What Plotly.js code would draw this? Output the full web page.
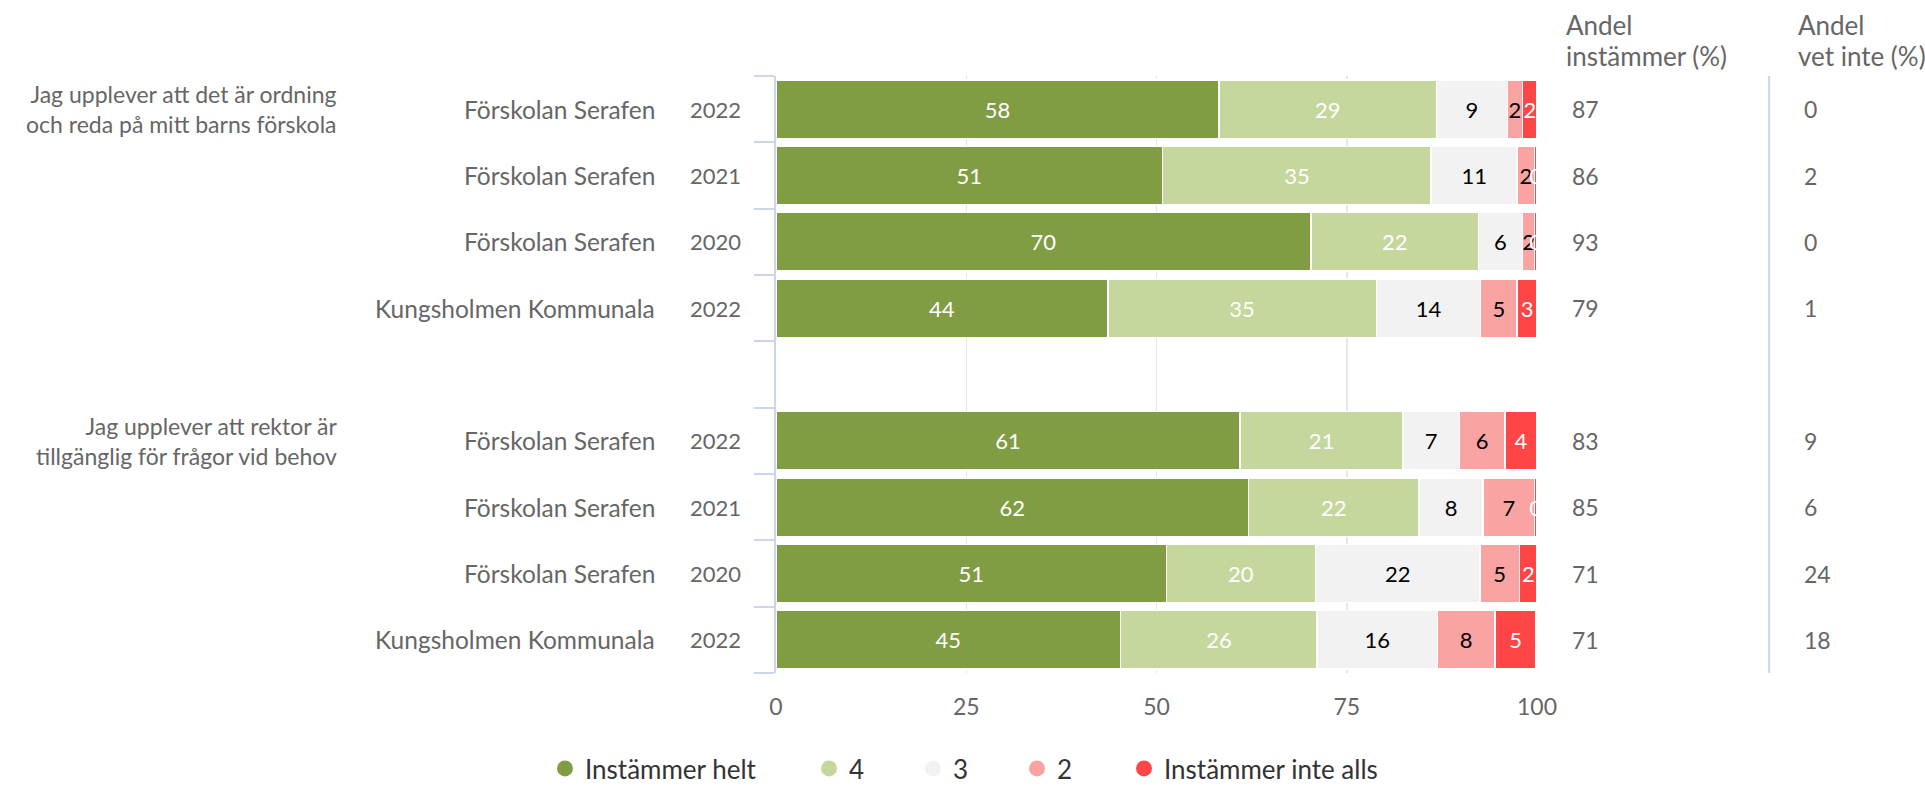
<!DOCTYPE html>
<html>
<head>
<meta charset="utf-8">
<script src="https://cdn.plot.ly/plotly-3.0.1.min.js"></script>
<style>html,body{margin:0;padding:0;background:#fff;}#chart{width:1925px;height:792px;}</style>
</head>
<body>
<div id="chart"></div>
<script>
// ---- data ----
const questions = [
  "Jag upplever att det är ordning<br>och reda på mitt barns förskola",
  "Jag upplever att rektor är<br>tillgänglig för frågor vid behov"
];
const units = ["Förskolan Serafen","Förskolan Serafen","Förskolan Serafen","Kungsholmen Kommunala",
               "Förskolan Serafen","Förskolan Serafen","Förskolan Serafen","Kungsholmen Kommunala"];
const years = ["2022","2021","2020","2022","2022","2021","2020","2022"];
const seriesNames = ["Instämmer helt","4","3","2","Instämmer inte alls"];
const helt   = [58.2, 50.8, 70.3, 43.6, 61.0, 62.1, 51.3, 45.3];
const fyra   = [28.6, 35.3, 22.0, 35.3, 21.4, 22.4, 19.6, 25.8];
const tre    = [ 9.3, 11.3,  5.8, 13.7,  7.4,  8.4, 21.6, 15.8];
const tva    = [ 2.0,  2.3,  1.6,  4.8,  6.0,  6.8,  5.2,  7.6];
const inte   = [ 1.9,  0.3,  0.3,  2.6,  4.2,  0.3,  2.3,  5.4];
const andelInstammer = [87, 86, 93, 79, 83, 85, 71, 71];
const andelVetInte   = [0, 2, 0, 1, 9, 6, 24, 18];
const xTicks = [0, 25, 50, 75, 100];
const header1 = ["Andel", "instämmer (%)"];
const header2 = ["Andel", "vet inte (%)"];

// ---- styling ----
const colors = ["#819d44", "#c5d79c", "#f2f2f2", "#f9a3a3", "#ff4545"];
const textColors = ["#ffffff", "#ffffff", "#000000", "#000000", "#ffffff"];
const FONT = "Lato, 'Open Sans', sans-serif";
const gray = "#666666";
const axisBlue = "#ccd6eb";
const FS = 23;
// legend entry left edges (px, container coords)
const legendLeft = [545, 809, 913, 1017, 1124];

const rowsPerGroup = 4;
const yPos = units.map((u, i) => Math.floor(i / rowsPerGroup) * (rowsPerGroup + 1) + (i % rowsPerGroup));
const nSlots = questions.length * (rowsPerGroup + 1) - 1;

const allSeries = [helt, fyra, tre, tva, inte];
const traces = allSeries.map((vals, k) => ({
  type: "bar",
  orientation: "h",
  name: seriesNames[k],
  x: vals,
  y: yPos,
  marker: {color: colors[k], line: {color: "#ffffff", width: 1.5}},
  texttemplate: "%{x:.0f}",
  textposition: "inside",
  insidetextanchor: "middle",
  textangle: 0,
  constraintext: "none",
  textfont: {family: FONT, size: 22, color: textColors[k]},
  hoverinfo: "skip",
  showlegend: false,
  width: 0.88
}));
// legend entries with round markers, one legend box per entry
const legendNames = ["legend", "legend2", "legend3", "legend4", "legend5"];
seriesNames.forEach((n, k) => traces.push({
  type: "scatter", mode: "markers", x: [null], y: [null], name: n,
  legend: legendNames[k],
  marker: {color: colors[k], size: 16, symbol: "circle"}, showlegend: true, hoverinfo: "skip"
}));

const tickBounds = [];
for (let i = 0; i <= nSlots; i++) tickBounds.push(i - 0.5);

const annotations = [];
yPos.forEach((y, i) => {
  annotations.push({xref: "paper", yref: "y", x: -0.1564, y: y, text: units[i], showarrow: false,
    xanchor: "right", yanchor: "middle", font: {family: FONT, size: 24.5, color: gray}});
  annotations.push({xref: "paper", yref: "y", x: -0.0434, y: y, text: years[i], showarrow: false,
    xanchor: "right", yanchor: "middle", font: {family: FONT, size: 22, color: gray}});
  annotations.push({xref: "paper", yref: "y", x: 1.043, y: y, text: String(andelInstammer[i]), showarrow: false,
    xanchor: "left", yanchor: "middle", font: {family: FONT, size: FS, color: gray}});
  annotations.push({xref: "paper", yref: "y", x: 1.348, y: y, text: String(andelVetInte[i]), showarrow: false,
    xanchor: "left", yanchor: "middle", font: {family: FONT, size: FS, color: gray}});
});
questions.forEach((q, g) => {
  annotations.push({xref: "paper", yref: "y", x: -0.574, y: g * (rowsPerGroup + 1), text: q, showarrow: false,
    xanchor: "right", yanchor: "middle", align: "right", font: {family: FONT, size: FS, color: gray}});
});
[[header1, 1.0355], [header2, 1.340]].forEach(([h, x]) => {
  annotations.push({xref: "paper", yref: "paper", x: x, y: 1.0854, text: h[0], showarrow: false,
    xanchor: "left", yanchor: "middle", font: {family: FONT, size: 26, color: gray}});
  annotations.push({xref: "paper", yref: "paper", x: x, y: 1.0335, text: h[1], showarrow: false,
    xanchor: "left", yanchor: "middle", font: {family: FONT, size: 26, color: gray}});
});

const layout = {
  width: 1925, height: 792,
  margin: {l: 776, r: 388, t: 76, b: 119, pad: 0},
  paper_bgcolor: "#ffffff", plot_bgcolor: "#ffffff",
  barmode: "stack",
  bargap: 0.12,
  font: {family: FONT, color: gray},
  xaxis: {
    range: [0, 100], tickvals: xTicks, ticktext: xTicks.map(String),
    showgrid: true, gridcolor: "#e6e6e6", gridwidth: 1.5, zeroline: false,
    showline: false, ticks: "", ticklabelstandoff: 18,
    tickfont: {family: FONT, size: FS, color: gray}, fixedrange: true
  },
  yaxis: {
    range: [nSlots - 0.5, -0.5], tickvals: tickBounds, showticklabels: false,
    ticks: "outside", ticklen: 20, tickwidth: 2, tickcolor: axisBlue,
    showline: true, linecolor: axisBlue, linewidth: 2,
    showgrid: false, zeroline: false, fixedrange: true
  },
  shapes: [{type: "line", xref: "paper", yref: "paper", x0: 1.305, x1: 1.305, y0: 0, y1: 1,
    line: {color: axisBlue, width: 2}}],
  annotations: annotations,
  showlegend: true
};
legendNames.forEach((ln, k) => {
  layout[ln] = {orientation: "h", xref: "container", yref: "container",
    x: legendLeft[k] / 1925, xanchor: "left", y: 0, yanchor: "bottom",
    bgcolor: "rgba(0,0,0,0)",
    font: {family: FONT, size: 26, color: "#333333"}, itemclick: false, itemdoubleclick: false};
});
layout.uniformtext = {mode: "show", minsize: 22};

Plotly.newPlot("chart", traces, layout, {displayModeBar: false, staticPlot: true});
</script>
</body>
</html>
